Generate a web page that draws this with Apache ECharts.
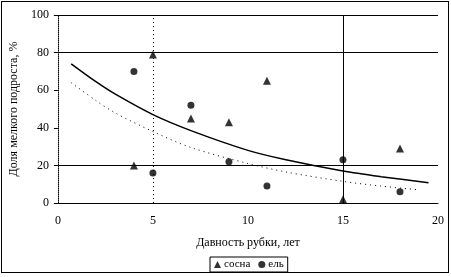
<!DOCTYPE html>
<html><head><meta charset="utf-8">
<script src="https://cdn.jsdelivr.net/npm/echarts@6/dist/echarts.min.js"></script>
<style>
html,body{margin:0;padding:0;background:#fff;}
#frame{position:absolute;left:1px;top:1px;width:446px;height:270px;border:1px solid #000;}
#c{position:absolute;left:0;top:0;width:451px;height:277px;}
</style></head>
<body>
<div id="frame"></div>
<div id="c"></div>
<script>
// Scatter data
const pineX = [4, 5, 7, 9, 11, 15, 18];
const pineY = [20, 79, 45, 43, 65, 2, 29];
const spruceX = [4, 5, 7, 9, 11, 15, 18];
const spruceY = [70, 16, 52, 22, 9, 23, 6];
// Trend lines
const pineTrendX = [0.7, 2, 3, 5, 7, 10, 12, 15, 17, 19.5];
const pineTrendY = [74, 64.5, 58, 47, 38.5, 28, 23, 17, 14, 10.8];
const spruceTrendX = [0.7, 2, 3, 5, 7, 10, 12, 15, 17, 19];
const spruceTrendY = [64, 54.5, 48, 38, 29.5, 21, 16.5, 11.5, 9, 7];
const yTicks = [0, 20, 40, 60, 80, 100];
const xTicks = [0, 5, 10, 15, 20];
const solidGridY = [20, 80, 100];

const zip = (a, b) => a.map((v, i) => [v, b[i]]);
const font = 'Liberation Serif';

const chart = echarts.init(document.getElementById('c'));
chart.setOption({
  animation: false,
  backgroundColor: 'transparent',
  grid: {left: 53, right: 13, top: 15, bottom: 74},
  xAxis: {
    type: 'value', min: xTicks[0], max: xTicks[xTicks.length - 1], interval: 5,
    name: 'Давность рубки, лет', nameLocation: 'middle', nameGap: 34,
    nameTextStyle: {fontFamily: font, fontSize: 12, color: '#000'},
    axisLine: {lineStyle: {color: '#000', width: 1}},
    axisTick: {show: false},
    axisLabel: {fontFamily: font, fontSize: 12, color: '#000', margin: 12},
    splitLine: {show: false}
  },
  yAxis: {
    type: 'value', min: yTicks[0], max: yTicks[yTicks.length - 1], interval: 20,
    name: 'Доля мелкого подроста, %', nameLocation: 'middle', nameGap: 34,
    nameTextStyle: {fontFamily: font, fontSize: 12, color: '#000'},
    axisLine: {show: true, lineStyle: {color: '#000', width: 1, type: 'dotted'}},
    axisTick: {show: true, inside: false, length: 4, lineStyle: {color: '#000'}},
    axisLabel: {fontFamily: font, fontSize: 12, color: '#000', margin: 9},
    splitLine: {show: false}
  },
  legend: {
    data: [{name: 'сосна', icon: 'triangle'}, {name: 'ель', icon: 'circle'}],
    left: 210, top: 257, padding: [2, 4, 2, 4],
    itemWidth: 7, itemHeight: 7, itemGap: 8,
    borderColor: '#000', borderWidth: 1,
    textStyle: {fontFamily: font, fontSize: 11, color: '#000', padding: [0, 0, 0, -2]}
  },
  series: [
    {
      type: 'line', data: [], silent: true,
      markLine: {
        symbol: 'none', silent: true, label: {show: false},
        data: solidGridY.map(v => ({yAxis: v, lineStyle: {color: '#000', width: 1, type: 'solid'}}))
          .concat([
            {xAxis: 15, lineStyle: {color: '#000', width: 1, type: 'solid'}},
            {xAxis: 5, lineStyle: {color: '#000', width: 1, type: [1, 3]}}
          ])
      }
    },
    {
      name: 'сосна', type: 'scatter', symbol: 'triangle', symbolSize: 8,
      itemStyle: {color: '#000'}, data: zip(pineX, pineY), z: 5
    },
    {
      name: 'ель', type: 'scatter', symbol: 'circle', symbolSize: 7,
      itemStyle: {color: '#000'}, data: zip(spruceX, spruceY), z: 5
    },
    {
      name: 'trend1', type: 'line', smooth: 0.3, symbol: 'none',
      lineStyle: {color: '#000', width: 1.5}, data: zip(pineTrendX, pineTrendY)
    },
    {
      name: 'trend2', type: 'line', smooth: 0.3, symbol: 'none',
      lineStyle: {color: '#000', width: 1, type: [1, 4]}, data: zip(spruceTrendX, spruceTrendY)
    }
  ]
});
</script>
</body></html>
